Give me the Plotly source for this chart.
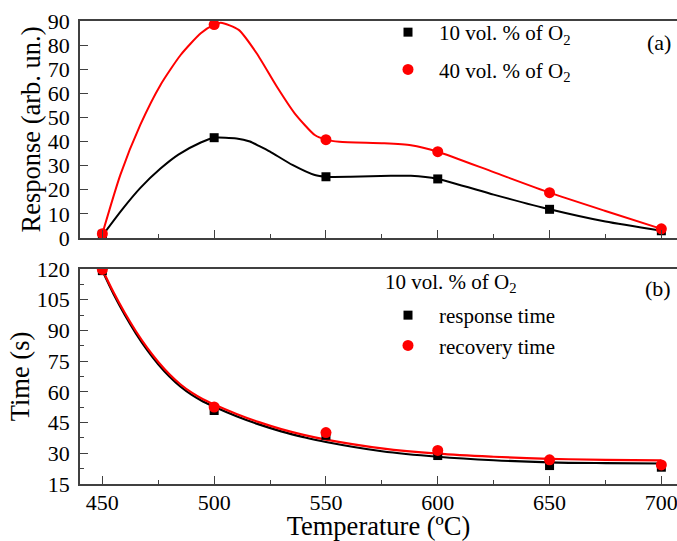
import plotly.graph_objects as go

# ---------------- data ----------------
temps = [450, 500, 550, 600, 650, 700]

# panel (a): response, measured points
resp_10 = [1.5, 41.6, 25.4, 24.5, 11.9, 3.0]
resp_40 = [1.8, 88.5, 40.8, 35.8, 18.8, 3.8]

# panel (a): smooth guide curves as drawn in the picture
curve10_t = [450, 459, 467, 476, 484, 494, 500, 510, 516, 520, 525, 535, 545, 550, 561, 579, 588, 600, 625, 650, 675, 700]
curve10_v = [1.0, 12.0, 20.8, 28.8, 34.6, 39.6, 41.6, 41.3, 40.0, 38.2, 35.8, 30.3, 26.1, 25.4, 25.4, 25.8, 25.8, 24.5, 18.0, 11.9, 6.8, 3.0]
curve40_t = [450, 458, 467, 476, 485, 494, 500, 503, 511, 519, 528, 536, 545, 550, 556, 576, 588, 600, 625, 650, 675, 700]
curve40_v = [1.8, 26.1, 47.0, 63.5, 75.9, 84.9, 88.5, 89.3, 86.3, 76.6, 62.8, 51.7, 42.7, 40.8, 39.9, 39.3, 38.5, 35.8, 27.3, 18.8, 11.2, 3.8]

# panel (b): times, measured points
resp_time = [119.2, 50.9, 38.8, 28.9, 24.0, 23.2]
reco_time = [119.8, 52.6, 40.1, 31.4, 26.8, 24.3]

# panel (b): fitted curves as drawn in the picture
fit_t = [450, 455, 460, 465, 470, 475, 480, 485, 490, 495, 500, 510, 520, 530, 540, 550, 575, 600, 625, 650, 675, 700]
fit_resp = [119.2, 107.8, 97.7, 88.6, 80.5, 73.5, 67.5, 62.5, 58.5, 55.3, 52.7, 48.1, 44.1, 40.7, 37.9, 35.5, 31.0, 28.3, 26.6, 25.6, 25.2, 25.0]
fit_reco = [119.8, 108.6, 98.6, 89.6, 81.6, 74.6, 68.6, 63.6, 59.6, 56.4, 53.8, 49.2, 45.2, 41.8, 39.0, 36.7, 32.4, 29.8, 28.3, 27.3, 26.8, 26.5]

x_ticks = [450, 500, 550, 600, 650, 700]

BLACK = "#000000"
RED = "#ff0000"
FONT = "Liberation Serif, Times New Roman, serif"

# the page body margin is removed (post_script) so the figure fills the 677x541 window exactly
W, H = 677, 541
L_REF, R_REF, T_REF, B_REF = 80, 677, 21, 484   # plot-area edges in window pixels
PW = R_REF - L_REF
PH = B_REF - T_REF


def px(xw):
    return (xw - L_REF) / PW


def py(yw):
    return (B_REF - yw) / PH


fig = go.Figure()

# ---- panel (a) ----
fig.add_trace(go.Scatter(x=curve10_t, y=curve10_v, mode="lines", line=dict(color=BLACK, width=2, shape="spline", smoothing=0.6),
                         showlegend=False, hoverinfo="skip", xaxis="x", yaxis="y"))
fig.add_trace(go.Scatter(x=curve40_t, y=curve40_v, mode="lines", line=dict(color=RED, width=2, shape="spline", smoothing=0.6),
                         showlegend=False, hoverinfo="skip", xaxis="x", yaxis="y"))
fig.add_trace(go.Scatter(x=temps, y=resp_10, mode="markers", name="10 vol. % of O<sub>2</sub>",
                         marker=dict(symbol="square", size=9, color=BLACK), legendgroup="a1", legend="legend",
                         xaxis="x", yaxis="y"))
fig.add_trace(go.Scatter(x=temps, y=resp_40, mode="markers", name="40 vol. % of O<sub>2</sub>",
                         marker=dict(symbol="circle", size=11, color=RED), legendgroup="a2", legend="legend",
                         xaxis="x", yaxis="y"))

# ---- panel (b) ----
fig.add_trace(go.Scatter(x=fit_t, y=fit_resp, mode="lines", line=dict(color=BLACK, width=2.2, shape="spline", smoothing=1.0),
                         showlegend=False, hoverinfo="skip", xaxis="x2", yaxis="y2"))
fig.add_trace(go.Scatter(x=fit_t, y=fit_reco, mode="lines", line=dict(color=RED, width=2.2, shape="spline", smoothing=1.0),
                         showlegend=False, hoverinfo="skip", xaxis="x2", yaxis="y2"))
fig.add_trace(go.Scatter(x=temps, y=resp_time, mode="markers", name="response time",
                         marker=dict(symbol="square", size=9, color=BLACK), legend="legend2",
                         xaxis="x2", yaxis="y2"))
fig.add_trace(go.Scatter(x=temps, y=reco_time, mode="markers", name="recovery time",
                         marker=dict(symbol="circle", size=11, color=RED), legend="legend2",
                         xaxis="x2", yaxis="y2"))

AX_LINE = "#404040"
common_x = dict(range=[440, 707], tickmode="array", tickvals=x_ticks, ticks="inside", ticklen=8, tickwidth=1.2,
                tickcolor=AX_LINE, showline=True, linecolor=AX_LINE, linewidth=1.5, mirror=True, showgrid=False,
                zeroline=False, minor=dict(ticks="inside", ticklen=4, tickwidth=1.2, tickcolor=AX_LINE, dtick=25, tick0=450),
                tickfont=dict(family=FONT, size=22, color=BLACK), ticklabeloverflow="allow")
common_y = dict(ticks="inside", ticklen=8, tickwidth=1.2, tickcolor=AX_LINE, showline=True, linecolor=AX_LINE,
                linewidth=1.5, mirror=False, showgrid=False, zeroline=False,
                tickfont=dict(family=FONT, size=22, color=BLACK), ticklabelstandoff=4)

dom_top = [py(238), 1.0]
dom_bot = [0.0, py(269)]

fig.update_layout(
    width=W, height=H,
    margin=dict(l=L_REF, r=0, t=T_REF, b=H - B_REF),
    paper_bgcolor="white", plot_bgcolor="white",
    font=dict(family=FONT, color=BLACK),
    xaxis=dict(common_x, domain=[0, 1], anchor="y", showticklabels=False),
    yaxis=dict(common_y, domain=dom_top, anchor="x", range=[0, 90], dtick=10, tick0=0,
               title=dict(text="Response (arb. un.)", font=dict(family=FONT, size=26.5), standoff=0)),
    xaxis2=dict(common_x, domain=[0, 1], anchor="y2", ticklabelstandoff=-2,
                title=dict(text="Temperature (ºC)", font=dict(family=FONT, size=26.5), standoff=5)),
    yaxis2=dict(common_y, domain=dom_bot, anchor="x2", range=[15, 120], dtick=15, tick0=15,
                minor=dict(ticks="inside", ticklen=4, tickwidth=1.2, tickcolor=AX_LINE, dtick=7.5, tick0=15),
                title=dict(text="Time (s)", font=dict(family=FONT, size=26.5), standoff=0)),
    legend=dict(x=px(377), xanchor="left", y=py(12), yanchor="top", bgcolor="rgba(0,0,0,0)",
                font=dict(family=FONT, size=21, color=BLACK), itemwidth=52, tracegroupgap=7),
    legend2=dict(x=px(377), xanchor="left", y=py(295), yanchor="top", bgcolor="rgba(0,0,0,0)",
                 font=dict(family=FONT, size=21, color=BLACK), itemwidth=52, tracegroupgap=0),
    annotations=[
        dict(text="(a)", xref="paper", yref="paper", x=px(673), y=py(42), xanchor="right",
             yanchor="middle", showarrow=False, font=dict(family=FONT, size=22, color=BLACK)),
        dict(text="(b)", xref="paper", yref="paper", x=px(673), y=py(288), xanchor="right",
             yanchor="middle", showarrow=False, font=dict(family=FONT, size=22, color=BLACK)),
        dict(text="10 vol. % of O<sub>2</sub>", xref="paper", yref="paper", x=px(383), y=py(283),
             xanchor="left", yanchor="middle", showarrow=False, font=dict(family=FONT, size=21, color=BLACK)),
    ],
)

fig.write_html("out.html", config={"displayModeBar": False},
               post_script="document.body.style.margin='0';document.body.style.overflow='hidden';")
